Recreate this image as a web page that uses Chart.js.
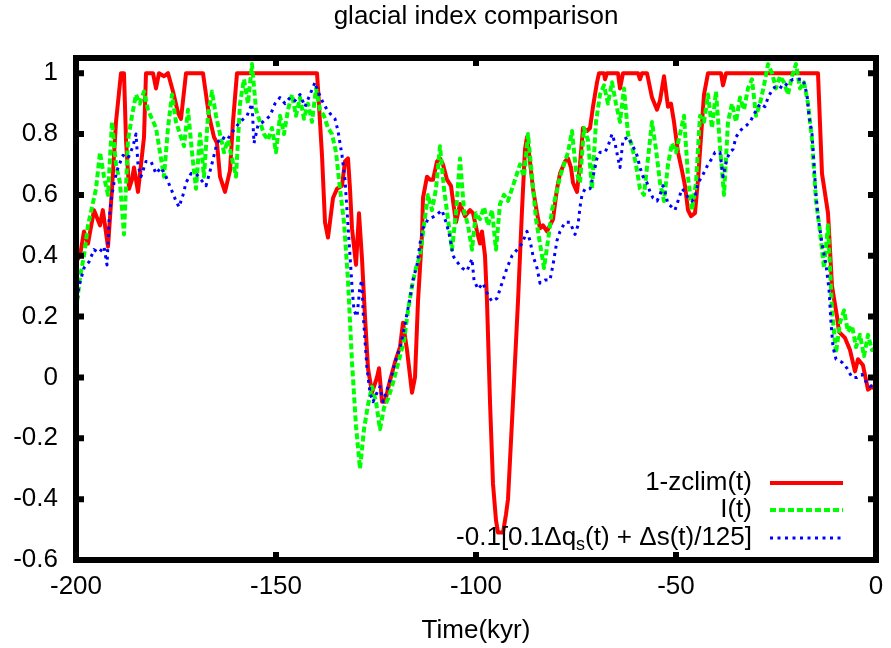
<!DOCTYPE html>
<html><head><meta charset="utf-8">
<script src="https://cdn.jsdelivr.net/npm/chart.js@4.4.0/dist/chart.umd.min.js"></script>
<style>html,body{margin:0;padding:0;background:#fff;}canvas{display:block;}</style>
</head><body>
<canvas id="c" width="891" height="648"></canvas>
<script>
// ---------- data ----------
const chartTitle = 'glacial index comparison';
const xAxisTitle = 'Time(kyr)';
const xTicks = [-200, -150, -100, -50, 0];
const xTickLabels = ['-200', '-150', '-100', '-50', '0'];
const yTicks = [-0.6, -0.4, -0.2, 0, 0.2, 0.4, 0.6, 0.8, 1];
const yTickLabels = ['-0.6', '-0.4', '-0.2', '0', '0.2', '0.4', '0.6', '0.8', '1'];
const seriesLabels = ['1-zclim(t)', 'I(t)', '-0.1[0.1\u0394q_s(t) + \u0394s(t)/125]'];

// 1-zclim(t)
const redT = [-200,-199,-198,-197,-195.5,-194,-193.3,-192,-191,-190,
  -188.75,-188,-187.5,-186.75,-186,-185.5,-184.5,-183.75,-183,-182.5,
  -180.75,-180,-179.25,-178,-177,-175.75,-174.5,-173.75,-172.5,-168.25,
  -166.75,-165.5,-164.75,-164,-162.75,-161.5,-160.75,-159.75,-139.75,-139.5,
  -138.5,-137.75,-137,-135.75,-134.75,-133.5,-132.75,-132,-131.5,-131,
  -130,-129.25,-128.5,-127.75,-127,-126,-124.75,-124.25,-123.5,-122.75,
  -121.5,-120.25,-119,-118.25,-117.25,-116,-115.25,-114.5,-113.5,-113.25,
  -112.25,-111.5,-110.75,-109.75,-109,-108.25,-107.25,-106.25,-105.75,-105,
  -104,-102.75,-101.5,-100.75,-99.75,-99,-98.5,-97.75,-97.25,-96.5,
  -95.75,-95,-94.5,-93.25,-92.5,-92,-90.75,-89.5,-88.5,-87.75,
  -87.25,-86.5,-85.75,-84.75,-84,-83.25,-82.25,-81.5,-80.75,-79.75,
  -79,-77.75,-77,-76.25,-75.75,-74.75,-74,-73.25,-72.25,-71.5,
  -70.75,-69.75,-69.25,-68,-67.75,-67.25,-64.5,-64,-63.25,-59.5,
  -59,-58.5,-57.25,-56,-54.75,-54,-53,-52,-51.25,-50.5,
  -49.5,-48.5,-47.75,-47,-46.25,-45.25,-44.5,-43.75,-43,-42,
  -38.75,-38.25,-37.5,-14.5,-13.5,-12,-11,-9.75,-9.25,-7.75,
  -6.5,-5.25,-4.5,-3.25,-2,-1,0];
const redV = [0.38,0.40,0.48,0.44,0.55,0.50,0.55,0.43,0.62,0.84,
  1.0,1.0,0.78,0.62,0.65,0.69,0.61,0.70,0.79,1.0,
  1.0,0.95,1.0,0.99,1.0,0.94,0.87,0.85,1.0,1.0,
  0.86,0.79,0.77,0.66,0.61,0.68,0.84,1.0,1.0,0.95,
  0.73,0.51,0.46,0.59,0.62,0.63,0.71,0.72,0.62,0.49,
  0.37,0.54,0.39,0.20,0.03,-0.05,0.0,0.03,-0.08,-0.08,
  -0.01,0.05,0.10,0.18,0.09,-0.05,0.0,0.25,0.47,0.59,
  0.66,0.65,0.65,0.71,0.72,0.70,0.65,0.63,0.58,0.51,
  0.57,0.53,0.55,0.54,0.48,0.44,0.48,0.40,0.25,-0.08,
  -0.35,-0.47,-0.51,-0.51,-0.45,-0.40,-0.08,0.25,0.55,0.75,
  0.79,0.71,0.62,0.54,0.49,0.50,0.48,0.50,0.52,0.62,
  0.67,0.71,0.72,0.69,0.64,0.61,0.70,0.82,0.81,0.82,
  0.89,0.97,1.0,1.0,0.98,1.0,1.0,0.95,1.0,1.0,
  0.98,1.0,1.0,0.92,0.88,0.91,0.99,0.89,0.90,0.84,
  0.74,0.68,0.63,0.55,0.53,0.54,0.65,0.79,0.93,1.0,
  1.0,0.96,1.0,1.0,0.67,0.54,0.30,0.20,0.15,0.13,
  0.09,0.02,0.06,0.04,-0.04,-0.03,-0.04];

// I(t), one value per kyr from -200 to 0
const greenStart = -200;
const greenV = [0.22,0.33,0.40,0.50,0.56,0.62,0.74,0.66,0.60,0.84,
  0.70,0.64,0.47,0.78,0.86,0.93,0.90,0.94,0.88,0.85,
  0.82,0.74,0.66,0.82,0.93,0.84,0.80,0.76,0.88,0.74,
  0.62,0.80,0.66,0.86,0.94,0.86,0.80,0.74,0.78,0.72,
  0.66,0.90,0.98,0.90,1.03,0.88,0.84,0.80,0.78,0.82,
  0.74,0.86,0.80,0.88,0.93,0.86,0.92,0.85,0.90,0.84,
  0.95,0.88,0.86,0.82,0.80,0.74,0.62,0.51,0.32,0.05,
  -0.16,-0.30,-0.17,-0.09,-0.03,-0.08,-0.17,-0.10,-0.07,-0.03,
  0.02,0.07,0.12,0.22,0.30,0.36,0.40,0.50,0.60,0.55,
  0.62,0.76,0.62,0.52,0.42,0.54,0.72,0.55,0.50,0.42,
  0.54,0.52,0.56,0.50,0.55,0.42,0.57,0.60,0.58,0.62,
  0.66,0.70,0.66,0.80,0.66,0.52,0.44,0.36,0.45,0.55,
  0.60,0.66,0.70,0.74,0.81,0.68,0.64,0.82,0.78,0.62,
  0.84,0.93,0.96,0.90,0.97,0.90,0.84,0.95,0.80,0.76,
  0.70,0.62,0.60,0.72,0.84,0.75,0.64,0.58,0.70,0.77,
  0.74,0.80,0.86,0.66,0.55,0.64,0.86,0.84,0.93,0.82,
  0.94,0.76,0.60,0.84,0.90,0.84,0.92,0.88,0.95,0.98,
  0.86,0.90,0.96,1.03,1.00,0.95,0.99,0.97,0.93,0.99,
  1.03,0.95,0.97,0.90,0.78,0.58,0.48,0.36,0.50,0.22,
  0.08,0.18,0.22,0.15,0.17,0.10,0.14,0.07,0.14,0.09,0.10];

// -0.1[0.1 dq_s(t) + ds(t)/125]
const blueT = [-200,-199.25,-198,-196.75,-195.5,-194.25,-193,-192.25,-191.75,-191.25,
  -190.5,-189.5,-188.25,-187,-185.75,-185,-184.5,-183.75,-182.5,-181.25,
  -180,-178.75,-177.5,-176.25,-175,-174.25,-173.25,-172.5,-171.25,-170,
  -168.75,-167.5,-166.25,-164.75,-163.5,-162.25,-160.75,-159,-157.25,-156,
  -155.5,-154.5,-153.25,-151.5,-150.25,-149,-147.75,-146.5,-145.25,-144,
  -142.75,-141.5,-140.25,-139.5,-138.5,-137.25,-136,-135.25,-134.5,-133.5,
  -132.75,-132,-131,-130.5,-129.75,-129,-128.5,-128.25,-127.75,-127.25,
  -126.5,-125.75,-124.75,-124,-123.25,-122.25,-121,-120.25,-119,-118.25,
  -117.25,-116.5,-115.75,-114.75,-114,-113.25,-112,-110.25,-108.5,-107.25,
  -106.5,-105.75,-104.75,-103.5,-102.25,-101,-100.5,-99.5,-98.25,-97,
  -96,-94.75,-93.5,-92.25,-91,-89.75,-88.5,-87.25,-86.5,-85.75,
  -84.75,-84,-82.75,-81.5,-80.75,-79.75,-79,-77.75,-76.5,-75.25,
  -74.5,-74,-73.5,-72.75,-71.5,-70.75,-69.75,-69,-67.75,-67,
  -66,-65.25,-64.5,-64,-63.25,-62,-60.75,-59.75,-59,-58.25,
  -57.25,-56.5,-55.75,-54.75,-54,-53.25,-52.75,-52,-51,-50.25,
  -49.5,-48.5,-47.75,-47,-46,-45.25,-44.5,-43.5,-42.75,-42,
  -41,-40.25,-39,-38.25,-37.25,-36.5,-35.75,-35,-34,-33.25,
  -32.25,-31.5,-30.25,-29,-27.75,-27,-25.75,-24.5,-23.25,-22,
  -20.75,-19.5,-18.25,-17.25,-16.75,-16,-15.5,-15,-14.5,-13.5,
  -12.5,-11.75,-11.25,-10.75,-10,-8.5,-7.25,-6,-4.75,-3.5,
  -2.25,-1.5,-0.25];
const blueV = [0.21,0.30,0.36,0.38,0.42,0.41,0.43,0.37,0.51,0.58,
  0.64,0.69,0.73,0.72,0.76,0.80,0.70,0.66,0.71,0.71,
  0.67,0.69,0.66,0.62,0.58,0.56,0.60,0.64,0.67,0.67,
  0.65,0.63,0.69,0.77,0.79,0.78,0.81,0.84,0.86,0.90,
  0.77,0.83,0.84,0.86,0.90,0.92,0.90,0.92,0.91,0.93,
  0.89,0.93,0.97,0.94,0.91,0.88,0.86,0.85,0.81,0.73,
  0.65,0.50,0.30,0.22,0.20,0.30,0.32,0.22,0.12,0.03,
  -0.05,-0.08,-0.05,-0.03,-0.08,-0.04,0.01,0.05,0.10,0.14,
  0.21,0.26,0.32,0.37,0.44,0.49,0.52,0.53,0.55,0.50,
  0.46,0.40,0.38,0.36,0.35,0.39,0.32,0.29,0.31,0.27,
  0.25,0.26,0.31,0.36,0.40,0.42,0.44,0.48,0.45,0.40,
  0.36,0.31,0.32,0.32,0.37,0.45,0.48,0.51,0.51,0.47,
  0.50,0.56,0.60,0.62,0.62,0.66,0.72,0.74,0.74,0.76,
  0.80,0.77,0.72,0.69,0.78,0.79,0.76,0.73,0.69,0.66,
  0.64,0.61,0.59,0.58,0.60,0.63,0.61,0.57,0.56,0.55,
  0.58,0.62,0.61,0.59,0.58,0.59,0.64,0.66,0.68,0.70,
  0.72,0.74,0.74,0.66,0.72,0.74,0.75,0.79,0.81,0.82,
  0.83,0.84,0.87,0.90,0.89,0.92,0.95,0.96,0.95,0.97,
  0.98,0.98,0.98,0.93,0.86,0.80,0.70,0.60,0.53,0.44,
  0.37,0.29,0.18,0.10,0.06,0.05,0.03,0.00,0.00,0.01,
  -0.02,-0.03,-0.02];

// ---------- build ----------
const FONT = "'Liberation Sans', Arial, Helvetica, sans-serif";
const FS = 26;
function zip(ts, vs) { const n = Math.min(ts.length, vs.length); const out = []; for (let i = 0; i < n; i++) out.push({x: ts[i], y: vs[i]}); return out; }
const redData = zip(redT, redV);
const greenData = greenV.map((v, i) => ({x: greenStart + i, y: v}));
const blueData = zip(blueT, blueV);

function drawRich(ctx, text, rightX, y) {
  const parts = text.split(/_(\w)/);
  const big = FS + 'px ' + FONT, small = Math.round(FS * 0.7) + 'px ' + FONT;
  let w = 0;
  parts.forEach((p, i) => { ctx.font = (i % 2) ? small : big; w += ctx.measureText(p).width; });
  let x = rightX - w;
  ctx.textAlign = 'left';
  parts.forEach((p, i) => {
    ctx.font = (i % 2) ? small : big;
    ctx.fillText(p, x, (i % 2) ? y + 7 : y);
    x += ctx.measureText(p).width;
  });
}

const framePlugin = {
  id: 'gnuframe',
  afterDraw(chart) {
    const {ctx, chartArea: a} = chart;
    const xs = chart.scales.x, ys = chart.scales.y;
    ctx.save();
    ctx.setLineDash([]);
    ctx.strokeStyle = '#000';
    ctx.lineWidth = 6;
    ctx.lineCap = 'butt';
    ctx.strokeRect(a.left, a.top, a.right - a.left, a.bottom - a.top);
    ctx.beginPath();
    xTicks.forEach(v => {
      const px = xs.getPixelForValue(v);
      ctx.moveTo(px, a.bottom); ctx.lineTo(px, a.bottom - 8);
      ctx.moveTo(px, a.top); ctx.lineTo(px, a.top + 8);
    });
    yTicks.forEach(v => {
      const py = ys.getPixelForValue(v);
      ctx.moveTo(a.left, py); ctx.lineTo(a.left + 8, py);
      ctx.moveTo(a.right, py); ctx.lineTo(a.right - 8, py);
    });
    ctx.stroke();
    // legend (gnuplot style: text right-aligned, sample to the right)
    const rowY = [483, 510, 538];
    chart.data.datasets.forEach((ds, i) => {
      const yy = rowY[i];
      ctx.fillStyle = '#000';
      ctx.textBaseline = 'middle';
      drawRich(ctx, ds.label, 752, yy);
      ctx.strokeStyle = ds.borderColor;
      ctx.lineWidth = ds.borderWidth;
      ctx.setLineDash(ds.borderDash || []);
      ctx.beginPath(); ctx.moveTo(770, yy); ctx.lineTo(843, yy); ctx.stroke();
    });
    ctx.restore();
  }
};

new Chart(document.getElementById('c'), {
  type: 'line',
  data: {
    datasets: [
      {label: seriesLabels[0], data: redData, borderColor: '#ff0000', borderWidth: 4, order: 3},
      {label: seriesLabels[1], data: greenData, borderColor: '#00ff00', borderWidth: 4, borderDash: [6, 3], order: 2},
      {label: seriesLabels[2], data: blueData, borderColor: '#0000ff', borderWidth: 3, borderDash: [3, 4.5], order: 1}
    ]
  },
  options: {
    responsive: false,
    animation: false,
    devicePixelRatio: 1,
    layout: {padding: {left: 0, right: 15, top: 0, bottom: 0}},
    elements: {point: {radius: 0}, line: {tension: 0, borderJoinStyle: 'round', borderCapStyle: 'butt', fill: false}},
    plugins: {
      legend: {display: false},
      tooltip: {enabled: false},
      title: {display: true, fullSize: false, text: chartTitle, color: '#000', font: {family: FONT, size: FS, weight: 'normal'}, padding: {top: 1, bottom: 25.8}}
    },
    scales: {
      x: {
        type: 'linear', min: -200, max: 0,
        afterBuildTicks: s => { s.ticks = xTicks.map(v => ({value: v})); },
        afterFit: s => { s.height = 88; s.paddingLeft = 0; s.paddingRight = 0; },
        grid: {display: false, drawTicks: false},
        border: {display: false},
        ticks: {color: '#000', font: {family: FONT, size: FS}, padding: 11.5, maxRotation: 0, autoSkip: false,
          callback: (v, i) => xTickLabels[i]},
        title: {display: true, text: xAxisTitle, color: '#000', font: {family: FONT, size: FS}, padding: {top: 2, bottom: 2}}
      },
      y: {
        type: 'linear', min: -0.6, max: 1.05,
        afterBuildTicks: s => { s.ticks = yTicks.map(v => ({value: v})); },
        afterFit: s => { s.width = 76; s.paddingTop = 0; s.paddingBottom = 0; },
        grid: {display: false, drawTicks: false},
        border: {display: false},
        ticks: {color: '#000', font: {family: FONT, size: FS}, padding: 18, autoSkip: false,
          callback: (v, i) => yTickLabels[i]}
      }
    }
  },
  plugins: [framePlugin]
});
</script>
</body></html>
